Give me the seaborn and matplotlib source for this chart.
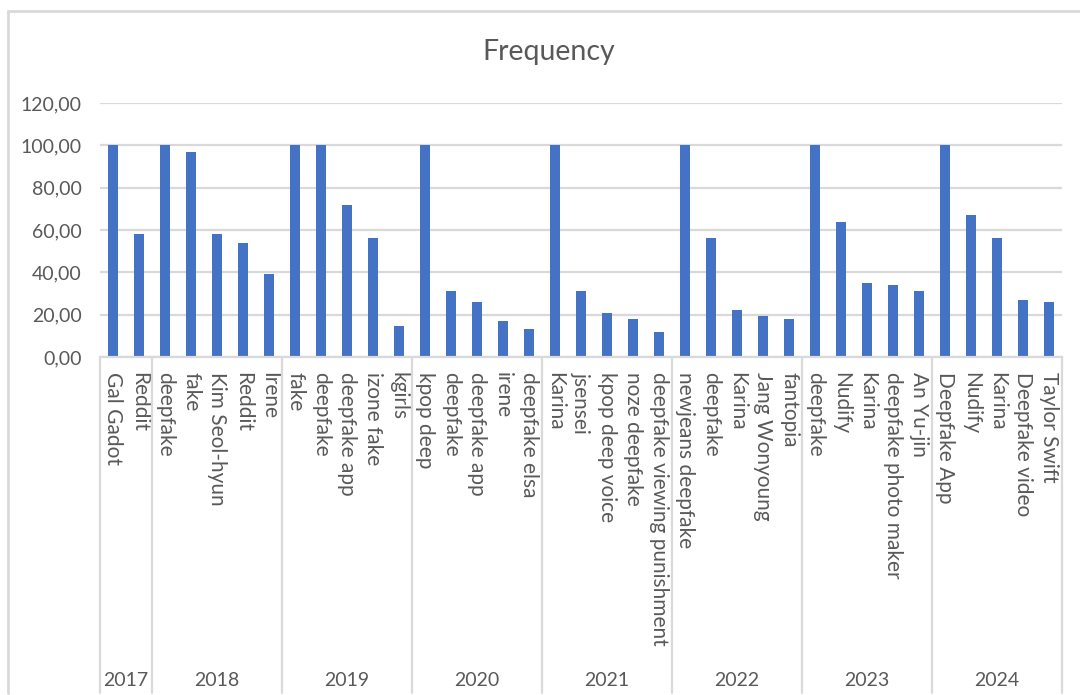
import matplotlib
matplotlib.use("Agg")
import matplotlib.pyplot as plt
import matplotlib.transforms as mtransforms
from matplotlib.lines import Line2D
import seaborn as sns
import pandas as pd

# Search keywords per year and their relative frequency
years = ["2017", "2018", "2019", "2020", "2021", "2022", "2023", "2024"]
keywords_2017 = ["Gal Gadot", "Reddit"]
keywords_2018 = ["deepfake", "fake", "Kim Seol-hyun", "Reddit", "Irene"]
keywords_2019 = ["fake", "deepfake", "deepfake app", "izone fake", "kgirls"]
keywords_2020 = ["kpop deep", "deepfake", "deepfake app", "irene", "deepfake elsa"]
keywords_2021 = ["Karina", "jsensei", "kpop deep voice", "noze deepfake",
                 "deepfake viewing punishment"]
keywords_2022 = ["newjeans deepfake", "deepfake", "Karina", "Jang Wonyoung", "fantopia"]
keywords_2023 = ["deepfake", "Nudify", "Karina", "deepfake photo maker", "An Yu-jin"]
keywords_2024 = ["Deepfake App", "Nudify", "Karina", "Deepfake video", "Taylor Swift"]

freq_2017 = [100, 58]
freq_2018 = [100, 97, 58, 54, 39]
freq_2019 = [100, 100, 72, 56, 14.5]
freq_2020 = [100, 31, 26, 17, 13]
freq_2021 = [100, 31, 21, 18, 12]
freq_2022 = [100, 56, 22, 19.5, 18]
freq_2023 = [100, 64, 35, 34, 31]
freq_2024 = [100, 67, 56, 27, 26]

y_ticks = [0, 20, 40, 60, 80, 100, 120]

groups = [
    (keywords_2017, freq_2017), (keywords_2018, freq_2018),
    (keywords_2019, freq_2019), (keywords_2020, freq_2020),
    (keywords_2021, freq_2021), (keywords_2022, freq_2022),
    (keywords_2023, freq_2023), (keywords_2024, freq_2024),
]

rows = []
for year, (kws, vals) in zip(years, groups):
    for kw, v in zip(kws, vals):
        rows.append({"year": year, "keyword": kw, "freq": v})
df = pd.DataFrame(rows)
df["slot"] = range(len(df))

TEXT = "#595959"
GRID = "#D9D9D9"
BAR = "#4472C4"
FONT = ["Lato", "DejaVu Sans"]

sns.set_theme(style="white")
plt.rcParams["font.family"] = FONT

fig = plt.figure(figsize=(10.8, 6.95), dpi=100)
ax = fig.add_axes([100 / 1080, 1 - 357 / 695, 962 / 1080, 254 / 695])

sns.barplot(data=df, x="slot", y="freq", color=BAR, width=0.36,
            saturation=1, ax=ax, edgecolor="none")

n = len(df)
ax.set_xlim(-0.5, n - 0.5)
ax.set_ylim(0, 120)
ax.set_yticks(y_ticks)
ax.set_yticklabels([f"{v:.2f}".replace(".", ",") for v in y_ticks],
                   color=TEXT, fontsize=14)
ax.set_xticks(range(n))
ax.set_xticklabels(df["keyword"], rotation=270, ha="center", va="top",
                   color=TEXT, fontsize=15)
ax.tick_params(axis="x", length=0, pad=11)
ax.tick_params(axis="y", length=0, pad=13)
ax.set_xlabel("")
ax.set_ylabel("")

ax.grid(axis="y", color=GRID, linewidth=1.6)
ax.set_axisbelow(True)
for side in ["top", "right", "left"]:
    ax.spines[side].set_visible(False)
ax.spines["bottom"].set_color(GRID)
ax.spines["bottom"].set_linewidth(1.6)

# Two-level category axis: dividers between years and year labels
blend = mtransforms.blended_transform_factory(ax.transData, fig.transFigure)
bottom_fig = 1 - 357 / 695
start = 0
edges = [-0.5]
for year, (kws, _) in zip(years, groups):
    end = start + len(kws)
    edges.append(end - 0.5)
    ax.text((start + end - 1) / 2, 1 - 680 / 695, year, transform=blend,
            ha="center", va="center", color=TEXT, fontsize=14)
    start = end
for e in edges:
    fig.add_artist(Line2D([e, e], [0.003, bottom_fig], transform=blend,
                          color=GRID, linewidth=1.6))

# Chart frame and title
fig.add_artist(Line2D([8 / 1080, 1.0], [1 - 10.5 / 695, 1 - 10.5 / 695],
                      transform=fig.transFigure, color=GRID, linewidth=2))
fig.add_artist(Line2D([8 / 1080, 8 / 1080], [0.003, 1 - 10.5 / 695],
                      transform=fig.transFigure, color=GRID, linewidth=2))
fig.text(549 / 1080, 1 - 52 / 695, "Frequency", ha="center", va="center",
         color=TEXT, fontsize=20.5)

fig.savefig("out.png", dpi=100, facecolor="white")
